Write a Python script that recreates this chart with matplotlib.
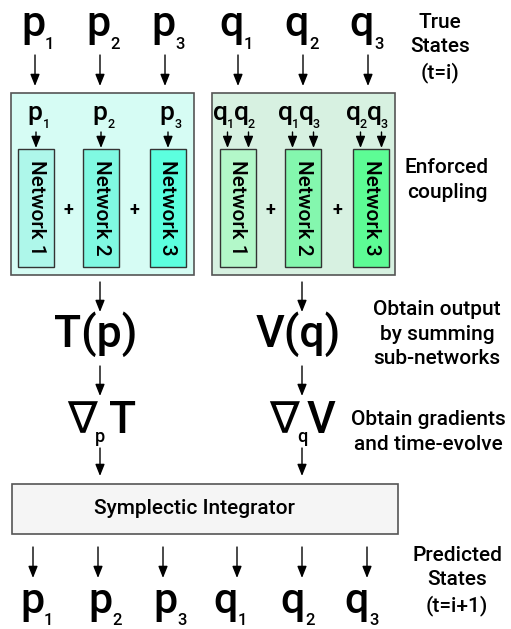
import matplotlib
matplotlib.use("Agg")
import matplotlib.pyplot as plt
from matplotlib.patches import Rectangle

plt.rcParams["font.family"] = ["Roboto", "DejaVu Sans"]
plt.rcParams["font.weight"] = "medium"

# diagram content
STATE_BASE = ["p", "p", "p", "q", "q", "q"]
STATE_SUB = ["1", "2", "3", "1", "2", "3"]
NET_LABELS = ["Network 1", "Network 2", "Network 3"]
P_INPUTS = [["1"], ["2"], ["3"]]
Q_INPUTS = [["1", "2"], ["1", "3"], ["2", "3"]]
OUTPUTS = ["T(p)", "V(q)"]
GRADS = [("p", "T"), ("q", "V")]
INTEGRATOR = "Symplectic Integrator"
NOTES = [
    "True\nStates\n(t=i)",
    "Enforced\ncoupling",
    "Obtain output\nby summing\nsub-networks",
    "Obtain gradients\nand time-evolve",
    "Predicted\nStates\n(t=i+1)",
]

# layout (pixels)
TOP_X = [35, 100, 165, 238, 303, 368]
BOT_X = [33, 98, 163, 237, 302, 367]
BOT_TEXT_X = [32, 100, 165, 226, 293, 357]
LEFT_NET_X = [18, 83, 150]
RIGHT_NET_X = [220, 285, 353]
NET_W = 36
LEFT_COLORS = ["#aef7ea", "#80f9e2", "#5cffdf"]
RIGHT_COLORS = ["#b3f8c9", "#84f7ae", "#5dfc95"]
NOTE_POS = [(440, 48), (447, 180), (437, 334), (428, 432), (457, 581)]

fig = plt.figure(figsize=(5.11, 6.29), dpi=100)
ax = fig.add_axes([0, 0, 1, 1])
ax.set_xlim(0, 511)
ax.set_ylim(629, 0)
ax.axis("off")


def arrow(x, y0, y1):
    ax.annotate("", xy=(x, y1), xytext=(x, y0),
                arrowprops=dict(arrowstyle="-|>,head_length=0.7,head_width=0.28",
                                color="black", lw=1.0, mutation_scale=10,
                                shrinkA=0, shrinkB=0))


def sub_label(x, y, base, sub, size, sub_size, dx, dy):
    ax.text(x, y, base, ha="center", va="baseline", fontsize=size)
    ax.text(x + dx, y + dy, sub, ha="left", va="baseline", fontsize=sub_size)


# true states
for i, (b, s) in enumerate(zip(STATE_BASE, STATE_SUB)):
    cx = TOP_X[i] - (2 if b == "p" else 6)
    sub_label(cx, 36, b, s, 31, 12, 12, 13)
    arrow(TOP_X[i], 55, 86)

# coupling boxes
ax.add_patch(Rectangle((11, 93), 183, 182, facecolor="#d6fcf4", edgecolor="#555", lw=1.2))
ax.add_patch(Rectangle((212, 93), 183, 182, facecolor="#d7f1e1", edgecolor="#555", lw=1.2))

for k in range(3):
    for xs, col in ((LEFT_NET_X, LEFT_COLORS), (RIGHT_NET_X, RIGHT_COLORS)):
        ax.add_patch(Rectangle((xs[k], 149), NET_W, 118, facecolor=col[k],
                               edgecolor="#333", lw=1.0))
        ax.text(xs[k] + NET_W / 2, 208, NET_LABELS[k], rotation=-90,
                ha="center", va="center", fontsize=15)
    # p inputs
    cx = LEFT_NET_X[k] + NET_W / 2
    for s in P_INPUTS[k]:
        sub_label(cx - 1, 120, "p", s, 19, 9, 8, 8)
        arrow(cx, 132, 148)
    # q inputs
    cx = RIGHT_NET_X[k] + NET_W / 2
    for j, s in enumerate(Q_INPUTS[k]):
        ax_x = cx - 10.5 + 21 * j
        sub_label(ax_x - 7, 120, "q", s, 19, 9, 6, 8)
        arrow(ax_x, 132, 148)

for xs in (LEFT_NET_X, RIGHT_NET_X):
    for k in range(2):
        ax.text((xs[k] + NET_W + xs[k + 1]) / 2, 210, "+", ha="center",
                va="center", fontsize=13, fontweight="bold")

# outputs and gradients
for i, (x, out) in enumerate(zip([100, 302], OUTPUTS)):
    arrow(x, 282, 312)
    ax.text(x - 4, 347, out, ha="center", va="baseline", fontsize=32)
    arrow(x, 366, 396)
    d, f = GRADS[i]
    ax.text(x - 18, 433, "\u2207", ha="center", va="baseline", fontsize=32,
            family="DejaVu Sans", fontweight="normal")
    ax.text(x - 5, 442, d, ha="left", va="baseline", fontsize=13)
    ax.text(x + 9 if i == 0 else x + 5, 433, f, ha="left", va="baseline", fontsize=32)
    arrow(x, 448, 476)

# integrator
ax.add_patch(Rectangle((12, 484), 386, 50, facecolor="#f5f5f5", edgecolor="#555", lw=1.2))
ax.text(194, 509, INTEGRATOR, ha="center", va="center", fontsize=15)

# predicted states
for i, (b, s) in enumerate(zip(STATE_BASE, STATE_SUB)):
    arrow(BOT_X[i], 547, 578)
    sub_label(BOT_TEXT_X[i], 613, b, s, 31, 12, 12, 12)

# side notes
for (x, y), note in zip(NOTE_POS, NOTES):
    ax.text(x, y, note, ha="center", va="center", fontsize=15, linespacing=1.35)

fig.savefig("out.png", dpi=100)
